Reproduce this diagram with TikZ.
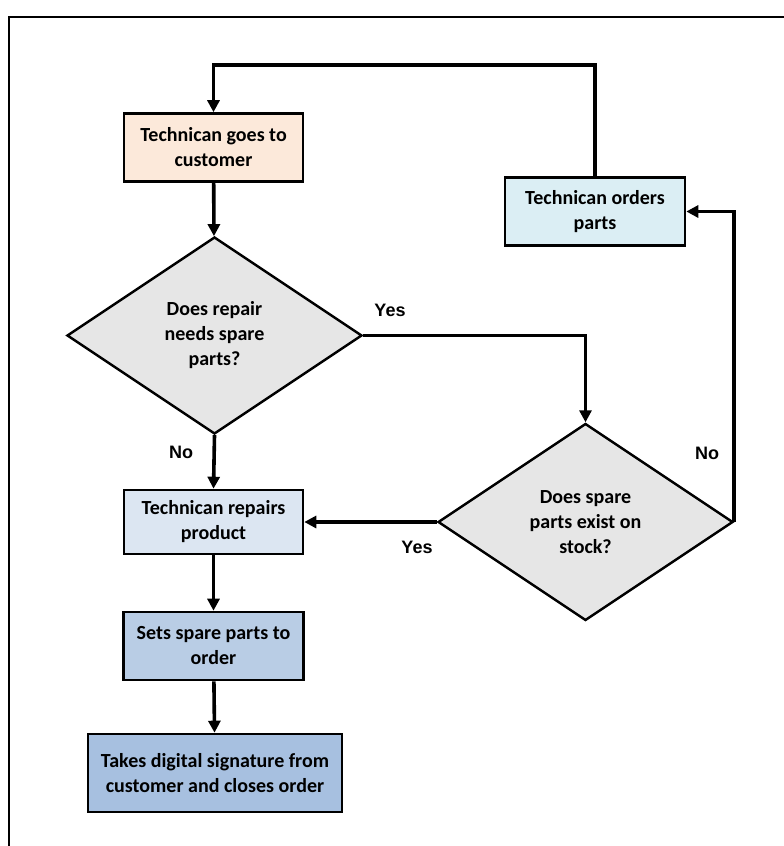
\documentclass[tikz,border=0pt]{standalone}
\usepackage{fontspec}
\setmainfont{Carlito}
\newfontfamily\labelfont{Liberation Sans}
\usetikzlibrary{shapes.geometric, arrows.meta, positioning}
\definecolor{peach}{HTML}{FCE9DA}
\definecolor{iceblue}{HTML}{DBEEF4}
\definecolor{paleblue}{HTML}{DCE6F2}
\definecolor{midblue}{HTML}{B9CDE5}
\definecolor{deepblue}{HTML}{A7C0E0}
\definecolor{question}{HTML}{E6E6E6}
\tikzset{
    box/.style={rectangle, draw=black, line width=2.6pt, align=center, font=\fontsize{20}{25}\selectfont\bfseries, inner sep=4pt},
    task/.style={box, minimum width=179pt, minimum height=68pt},
    decide/.style={diamond, draw=black, line width=2.4pt, fill=question, align=center, font=\fontsize{20}{25}\selectfont\bfseries, inner sep=0pt, minimum width=295pt, minimum height=197pt},
    arr/.style={-{Triangle[length=12pt, width=12pt]}, line width=3.6pt, black},
    answer/.style={font=\labelfont\fontsize{18}{20}\selectfont\bfseries}
}
\begin{document}
\begin{tikzpicture}[x=1pt, y=-1pt]
                \useasboundingbox (0,0) rectangle (784,846);
                \draw[line width=2.6pt] (9,846) -- (9,17) -- (784,17);
                \node[task, fill=peach] (goes) at (213.5,147.5) {Technican goes to\\customer};
                \node[task, fill=iceblue, minimum width=180pt] (orders) at (595,211.5) {Technican orders\\parts};
                \node[decide] (needs) at (214.5,335.5) {Does repair\\needs spare\\parts?};
                \node[decide] (stock) at (585.5,522) {Does spare\\parts exist on\\stock?};
                \node[task, fill=paleblue, minimum height=64pt] (repairs) at (213.5,522) {Technican repairs\\product};
                \node[task, fill=midblue, minimum width=180pt] (sets) at (213.5,646) {Sets spare parts to\\order};
                \node[task, fill=deepblue, minimum width=254pt, minimum height=78pt] (takes) at (215,773) {Takes digital signature from\\customer and closes order};
                \coordinate (loop) at (0,65);
                \node[answer] (yes1) at (390,310) {Yes};
                \node[answer] (no1) at (181,452) {No};
                \node[answer] (yes2) at (417,547) {Yes};
                \node[answer] (no2) at (707,453) {No};
                \draw[arr] (orders.north) -- (orders.north |- loop) -- (goes.north |- loop) -- (goes.north);
                \draw[arr] (goes) -- (needs);
                \draw[arr] (needs.east) -| (stock.north);
                \draw[arr] (needs.south) -- (repairs.north);
                \draw[arr] (stock.west) -- (stock.west -| repairs.east);
                \draw[arr] (stock.east) |- (orders.east);
                \draw[arr] (repairs) -- (sets); \draw[arr] (sets) -- (takes);
            \end{tikzpicture}
\end{document}
